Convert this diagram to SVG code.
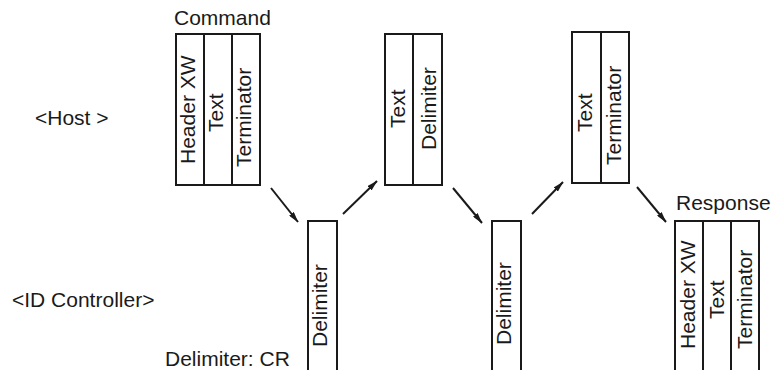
<svg xmlns="http://www.w3.org/2000/svg" width="774" height="370" viewBox="0 0 774 370">
  <style>
    .box { fill: #ffffff; stroke: #1a1a1a; stroke-width: 2; }
    .div { fill: none; stroke: #1a1a1a; stroke-width: 2; }
    .lbl { font-family: "Liberation Sans", Arial, sans-serif; font-size: 21px; fill: #1a1a1a; }
    .conn { fill: none; stroke: #1a1a1a; stroke-width: 2; }
  </style>
  <defs>
    <marker id="arrow" viewBox="0 0 11 6" refX="10.5" refY="3" markerWidth="11" markerHeight="6" markerUnits="userSpaceOnUse" orient="auto">
      <path d="M0,0 L11,3 L0,6 Z" fill="#1a1a1a"/>
    </marker>
  </defs>
  <rect width="774" height="370" fill="#ffffff"/>

  <g id="lane-labels">
    <text class="lbl" x="35" y="125">&lt;Host &gt;</text>
    <text class="lbl" x="12" y="307">&lt;ID Controller&gt;</text>
    <text class="lbl" x="165" y="366">Delimiter: CR</text>
  </g>

  <g id="command">
    <text class="lbl" x="174" y="25">Command</text>
    <rect class="box" x="176" y="34" width="84" height="151"/>
    <line class="div" x1="204" y1="34" x2="204" y2="185"/>
    <line class="div" x1="232" y1="34" x2="232" y2="185"/>
    <text class="lbl" transform="translate(195,164) rotate(-90)">Header XW</text>
    <text class="lbl" transform="translate(223,132) rotate(-90)">Text</text>
    <text class="lbl" transform="translate(251,167) rotate(-90)">Terminator</text>
  </g>

  <g id="delimiter1">
    <path class="box" d="M308,372 V221 H337 V372"/>
    <text class="lbl" transform="translate(327,347) rotate(-90)">Delimiter</text>
  </g>

  <g id="text-delimiter">
    <rect class="box" x="385" y="34" width="57" height="151"/>
    <line class="div" x1="413" y1="34" x2="413" y2="185"/>
    <text class="lbl" transform="translate(405,128) rotate(-90)">Text</text>
    <text class="lbl" transform="translate(436,150) rotate(-90)">Delimiter</text>
  </g>

  <g id="delimiter2">
    <path class="box" d="M492,372 V221 H521 V372"/>
    <text class="lbl" transform="translate(511,345) rotate(-90)">Delimiter</text>
  </g>

  <g id="text-terminator">
    <rect class="box" x="572" y="32" width="57" height="151"/>
    <line class="div" x1="601" y1="32" x2="601" y2="183"/>
    <text class="lbl" transform="translate(592,132) rotate(-90)">Text</text>
    <text class="lbl" transform="translate(621,165) rotate(-90)">Terminator</text>
  </g>

  <g id="response">
    <text class="lbl" x="676" y="210">Response</text>
    <path class="box" d="M675,372 V221 H759 V372"/>
    <line class="div" x1="703" y1="221" x2="703" y2="372"/>
    <line class="div" x1="731" y1="221" x2="731" y2="372"/>
    <text class="lbl" transform="translate(695,349) rotate(-90)">Header XW</text>
    <text class="lbl" transform="translate(724,319) rotate(-90)">Text</text>
    <text class="lbl" transform="translate(752,349) rotate(-90)">Terminator</text>
  </g>

  <g id="connectors">
    <line class="conn" x1="271" y1="188" x2="298" y2="222" marker-end="url(#arrow)"/>
    <line class="conn" x1="343" y1="214" x2="377" y2="181" marker-end="url(#arrow)"/>
    <line class="conn" x1="453" y1="188" x2="482" y2="223" marker-end="url(#arrow)"/>
    <line class="conn" x1="532" y1="214" x2="563" y2="182" marker-end="url(#arrow)"/>
    <line class="conn" x1="637" y1="187" x2="666" y2="222" marker-end="url(#arrow)"/>
  </g>
</svg>
